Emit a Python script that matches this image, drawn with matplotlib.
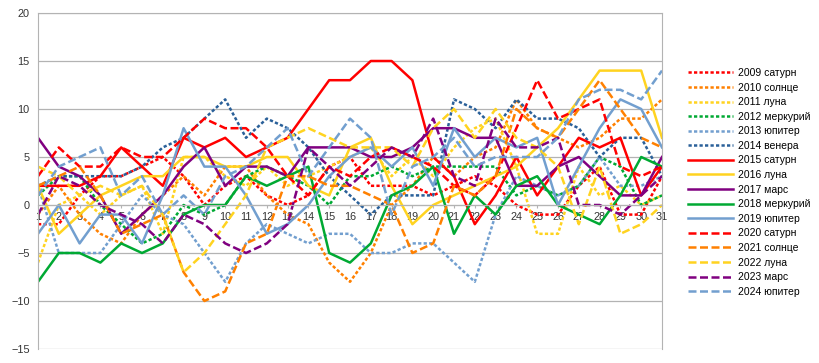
import matplotlib
matplotlib.use("Agg")
import matplotlib.pyplot as plt

plt.rcParams['font.family'] = ['Liberation Sans', 'DejaVu Sans']

# дни месяца
dni = list(range(1, 32))

# данные по годам (оценка по картинке)
v2009 = [-2, -2, 1, 3, 3, 4, 5, 3, 0, 2, 3, 1, 0, 1, 4, 5, 2, 2, 2, 1, 2, 3, 2, 0, -1, -1, 2, 4, -1, -1, 3]
v2010 = [-1, 2, -1, -3, -4, -1, 1, 3, 1, 4, 4, 1, -1, -2, -6, -8, -5, 0, 2, 5, 3, 5, 6, 11, 8, 7, 6, 7, 9, 9, 11]
v2011 = [-6, 0, 1, -1, 1, 2, -3, 5, 5, 3, 2, 4, 2, 3, 4, 5, 6, 3, 5, 3, 6, 8, 9, 4, -3, -3, 4, 1, 2, 0, 1]
v2012 = [1, 3, 3, 0, -2, -4, -3, 0, -1, 0, 3, 4, 3, 2, 0, 3, 3, 4, 3, 4, 4, 4, 4, 1, 2, 1, 2, 5, 4, 0, 1]
v2013 = [2, -5, -5, -5, -2, 1, -1, -2, -5, -8, -4, -2, -3, -4, -3, -3, -5, -5, -4, -4, -6, -8, -1, 3, 2, 1, 2, 5, 2, 2, 3]
v2014 = [2, 3, 3, 3, 3, 4, 6, 7, 9, 11, 7, 9, 8, 6, 3, 1, -1, 1, 1, 1, 11, 10, 8, 11, 9, 9, 8, 5, 7, 7, 3]
v2015 = [2, 2, 2, 3, 6, 4, 2, 7, 6, 7, 5, 6, 7, 10, 13, 13, 15, 15, 13, 5, 3, -2, 1, 5, 1, 4, 7, 6, 7, 1, 4]
v2016 = [2, -3, -1, 1, 2, 3, 3, 5, 5, 4, 4, 5, 5, 2, 1, 6, 7, 2, -2, 0, 1, 2, 3, 4, 6, 8, 11, 14, 14, 14, 7]
v2017 = [7, 4, 3, 1, -3, -1, 1, 4, 6, 2, 4, 4, 3, 6, 6, 6, 5, 5, 6, 8, 8, 7, 7, 2, 2, 4, 5, 3, 1, 1, 5]
v2018 = [-8, -5, -5, -6, -4, -5, -4, -1, 0, 0, 3, 2, 3, 4, -5, -6, -4, 1, 2, 4, -3, 1, -1, 2, 3, 0, -1, -2, 1, 5, 4]
v2019 = [-3, 0, -4, -1, -1, -4, 1, 8, 4, 4, 1, -3, -2, 0, 3, 5, 6, 4, 6, 2, 8, 5, 7, 6, 7, 0, 4, 8, 11, 10, 6]
v2020 = [3, 6, 4, 4, 6, 5, 5, 7, 9, 8, 8, 6, 3, 1, 4, 3, 5, 6, 5, 4, 2, 1, 3, 8, 13, 9, 10, 11, 4, 3, 4]
v2021 = [2, 3, 4, 1, -3, -2, -1, -7, -10, -9, -4, -3, 3, 3, 2, 2, 1, 0, -5, -4, 2, 1, 3, 10, 8, 7, 10, 13, 10, 7, 6]
v2022 = [4, 3, 1, 2, 1, 2, -1, -7, -5, -2, 1, 6, 7, 8, 7, 6, 6, 6, 4, 8, 10, 7, 10, 7, 6, 4, -2, 4, -3, -2, 0]
v2023 = [-1, 3, 2, 0, -1, -2, -4, -1, -2, -4, -5, -4, -2, 6, 4, 2, 4, 6, 5, 9, 3, 2, 9, 6, 6, 7, 0, 0, -1, 1, 3]
v2024 = [1, 4, 5, 6, 1, 3, -1, 1, -1, 3, 4, 6, 8, 3, 6, 9, 7, -1, 4, 5, 7, 4, 5, 5, 5, 7, 11, 12, 12, 11, 14]

nazvaniya = ['2009 сатурн', '2010 солнце', '2011 луна', '2012 меркурий', '2013 юпитер',
             '2014 венера', '2015 сатурн', '2016 луна', '2017 марс', '2018 меркурий',
             '2019 юпитер', '2020 сатурн', '2021 солнце', '2022 луна', '2023 марс',
             '2024 юпитер']
znacheniya = [v2009, v2010, v2011, v2012, v2013, v2014, v2015, v2016, v2017, v2018,
              v2019, v2020, v2021, v2022, v2023, v2024]

krasny = '#ff0000'
oranzh = '#ff8000'
zholty = '#ffd320'
zeleny = '#00a933'
goluboy = '#729fcf'
siniy = '#2a6099'
fiolet = '#800080'

cveta = [krasny, oranzh, zholty, zeleny, goluboy, siniy,
         krasny, zholty, fiolet, zeleny, goluboy,
         krasny, oranzh, zholty, fiolet, goluboy]

tochki = (0, (1.3, 0.9))
shtrih = (0, (3.2, 1.4))
stili = [tochki] * 6 + ['-'] * 5 + [shtrih] * 5

fig = plt.figure(figsize=(8.19, 3.63), dpi=100)
ax = fig.add_axes([38 / 819, 14 / 363, 624 / 819, 336 / 363])

for y, nm, c, ls in zip(znacheniya, nazvaniya, cveta, stili):
    ax.plot(dni, y, color=c, linestyle=ls, linewidth=1.8, label=nm)

ax.set_xlim(1, 31)
ax.set_ylim(-15, 20)
ax.set_yticks(range(-15, 21, 5))
ax.set_xticks(dni)
ax.yaxis.grid(True, color='#b3b3b3', linewidth=0.9)
ax.set_axisbelow(True)

for s in ['left', 'right', 'top']:
    ax.spines[s].set_color('#b3b3b3')
ax.spines['bottom'].set_position(('data', 0))
ax.spines['bottom'].set_color('#b3b3b3')
ax.tick_params(axis='x', length=2, color='#b3b3b3', pad=3, labelsize=7.8, labelcolor='#333333')
ax.tick_params(axis='y', length=0, pad=6, labelsize=7.8, labelcolor='#333333')

ax.legend(loc='upper left', bbox_to_anchor=(688 / 819, 1 - 68 / 363),
          bbox_transform=fig.transFigure, frameon=False, fontsize=7.5,
          handlelength=4.3, handletextpad=0.5, labelspacing=0.44,
          borderpad=0, borderaxespad=0)

fig.savefig('out.png', dpi=100)
